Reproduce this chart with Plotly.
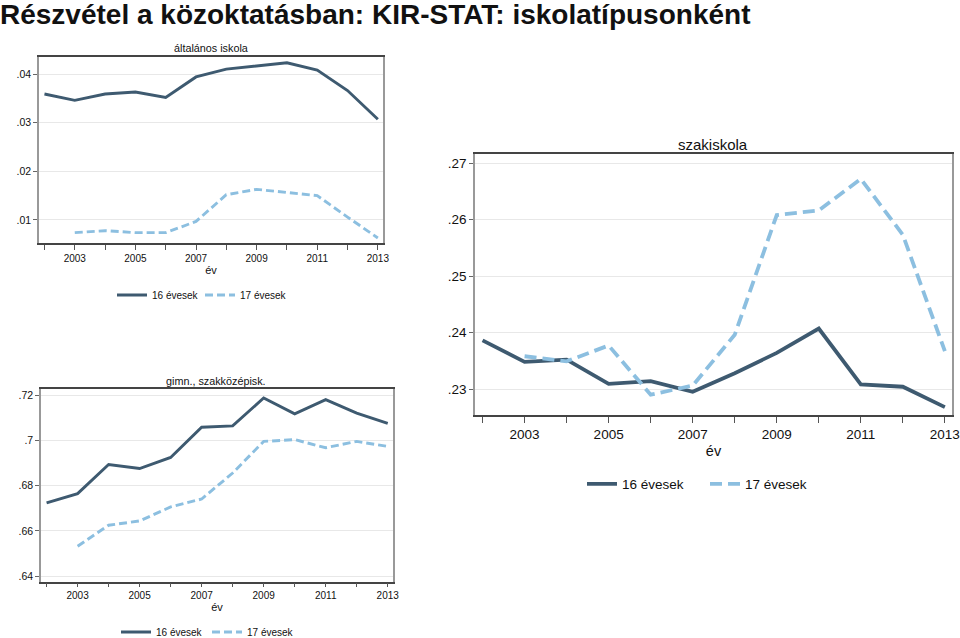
import plotly.graph_objects as go

years = [2002, 2003, 2004, 2005, 2006, 2007, 2008, 2009, 2010, 2011, 2012, 2013]
x_tick_labels = ["", "2003", "", "2005", "", "2007", "", "2009", "", "2011", "", "2013"]

# általános iskola
alt_16 = [0.0359, 0.0346, 0.0359, 0.0363, 0.0352, 0.0394, 0.0410, 0.0416, 0.0423, 0.0408, 0.0366, 0.0307]
alt_17 = [None, 0.0074, 0.0078, 0.0074, 0.0074, 0.0097, 0.0152, 0.0163, 0.0157, 0.0150, 0.0106, 0.0063]
alt_yvals = [0.01, 0.02, 0.03, 0.04]
alt_ylabels = [".01", ".02", ".03", ".04"]

# gimn., szakközépisk.
gim_16 = [0.6724, 0.6765, 0.6894, 0.6876, 0.6925, 0.7059, 0.7065, 0.7188, 0.7118, 0.7181, 0.7121, 0.7076]
gim_17 = [None, 0.6532, 0.6625, 0.6644, 0.6706, 0.6741, 0.6856, 0.6996, 0.7004, 0.6968, 0.6996, 0.6974]
gim_yvals = [0.64, 0.66, 0.68, 0.70, 0.72]
gim_ylabels = [".64", ".66", ".68", ".7", ".72"]

# szakiskola
szak_16 = [0.2386, 0.2348, 0.2352, 0.2309, 0.2314, 0.2295, 0.2328, 0.2364, 0.2407, 0.2308, 0.2304, 0.2268]
szak_17 = [None, 0.2358, 0.2349, 0.2377, 0.2290, 0.2306, 0.2396, 0.2608, 0.2616, 0.2672, 0.2573, 0.2367]
szak_yvals = [0.23, 0.24, 0.25, 0.26, 0.27]
szak_ylabels = [".23", ".24", ".25", ".26", ".27"]

series_names = ["16 évesek", "17 évesek"]
panel_titles = ["általános iskola", "gimn., szakközépisk.", "szakiskola"]
main_title = "Részvétel a közoktatásban: KIR-STAT: iskolatípusonként"
x_title = "év"

C16 = "#3e5a70"
C17 = "#8cbfe0"
FONT = "Liberation Sans, Arial, sans-serif"

W, H = 960, 638
def px(x):
    return x / W
def py(y):
    return 1 - y / H

fig = go.Figure()

panels = [
    dict(xa="x", ya="y", leg="legend", d16=alt_16, d17=alt_17, lw=2.9, dash="8px,4px"),
    dict(xa="x2", ya="y2", leg="legend2", d16=gim_16, d17=gim_17, lw=2.9, dash="8px,4px"),
    dict(xa="x3", ya="y3", leg="legend3", d16=szak_16, d17=szak_17, lw=3.8, dash="12px,6px"),
]
for p in panels:
    fig.add_trace(go.Scatter(x=years, y=p["d16"], mode="lines", name=series_names[0],
                             line=dict(color=C16, width=p["lw"]),
                             xaxis=p["xa"], yaxis=p["ya"], legend=p["leg"]))
    fig.add_trace(go.Scatter(x=years, y=p["d17"], mode="lines", name=series_names[1],
                             line=dict(color=C17, width=p["lw"], dash=p["dash"]),
                             xaxis=p["xa"], yaxis=p["ya"], legend=p["leg"]))

def xaxis(domain, fs, anchor, standoff, tl, lstand):
    return dict(domain=domain, anchor=anchor, range=[2001.82, 2013.17],
                tickvals=years, ticktext=x_tick_labels, ticks="outside", ticklen=tl,
                tickcolor="#555", tickwidth=1, showgrid=False, zeroline=False,
                showline=True, mirror=True, linecolor="#444", linewidth=1.5,
                ticklabelstandoff=lstand,
                tickfont=dict(family=FONT, size=fs, color="#111"),
                title=dict(text=x_title, font=dict(family=FONT, size=fs + 1, color="#111"),
                           standoff=standoff))

def yaxis(domain, rng, vals, labels, fs, anchor):
    return dict(domain=domain, anchor=anchor, range=rng, tickvals=vals, ticktext=labels,
                ticks="outside", ticklen=4, tickcolor="#666", tickwidth=1,
                showgrid=True, gridcolor="#e8e8e8", gridwidth=1, zeroline=False,
                showline=True, mirror=True, linecolor="#999", linewidth=1.5,
                tickfont=dict(family=FONT, size=fs, color="#111"))

fig.update_layout(
    width=W, height=H, margin=dict(l=0, r=0, t=0, b=0, autoexpand=False),
    paper_bgcolor="white", plot_bgcolor="white",
    xaxis=xaxis([px(39), px(383)], 10, "y", 2, 5, 0),
    yaxis=yaxis([py(243), py(57)], [0.00527, 0.0435], alt_yvals, alt_ylabels, 10.5, "x"),
    xaxis2=xaxis([px(41), px(393)], 10, "y2", 1, 4, 0),
    yaxis2=yaxis([py(581.5), py(389)], [0.6376, 0.7228], gim_yvals, gim_ylabels, 10.5, "x2"),
    xaxis3=xaxis([px(475), px(952)], 13.5, "y3", 5, 6, 0),
    yaxis3=yaxis([py(415), py(154)], [0.2254, 0.2716], szak_yvals, szak_ylabels, 13.5, "x3"),
    title=dict(text="<b>" + main_title + "</b>", x=0.0, xanchor="left", y=py(14), yanchor="middle",
               font=dict(family=FONT, size=28, color="#111")),
    legend=dict(orientation="h", x=px(112), xanchor="left", y=py(295), yanchor="middle",
                font=dict(family=FONT, size=10, color="#111"), bgcolor="rgba(0,0,0,0)",
                entrywidth=43, itemwidth=30),
    legend2=dict(orientation="h", x=px(116), xanchor="left", y=py(632), yanchor="middle",
                 font=dict(family=FONT, size=10, color="#111"), bgcolor="rgba(0,0,0,0)",
                 entrywidth=46, itemwidth=30),
    legend3=dict(orientation="h", x=px(582), xanchor="left", y=py(484), yanchor="middle",
                 font=dict(family=FONT, size=13.5, color="#111"), bgcolor="rgba(0,0,0,0)",
                 entrywidth=78, itemwidth=30),
    annotations=[
        dict(text=panel_titles[0], x=px(211), y=py(48), xref="paper", yref="paper",
             xanchor="center", yanchor="middle",
             showarrow=False, font=dict(family=FONT, size=10.8, color="#111")),
        dict(text=panel_titles[1], x=px(216), y=py(381), xref="paper", yref="paper",
             xanchor="center", yanchor="middle",
             showarrow=False, font=dict(family=FONT, size=10.8, color="#111")),
        dict(text=panel_titles[2], x=px(713), y=py(144), xref="paper", yref="paper",
             xanchor="center", yanchor="middle",
             showarrow=False, font=dict(family=FONT, size=15, color="#111")),
    ],
)

post = ("var s=document.documentElement.style;s.margin='0';s.padding='0';s.overflow='hidden';"
        "s.width='960px';s.height='638px';"
        "var b=document.body.style;b.margin='0';b.padding='0';b.overflow='hidden';"
        "b.width='960px';b.height='638px';")
fig.write_html("out.html", config={"displayModeBar": False}, post_script=post)
